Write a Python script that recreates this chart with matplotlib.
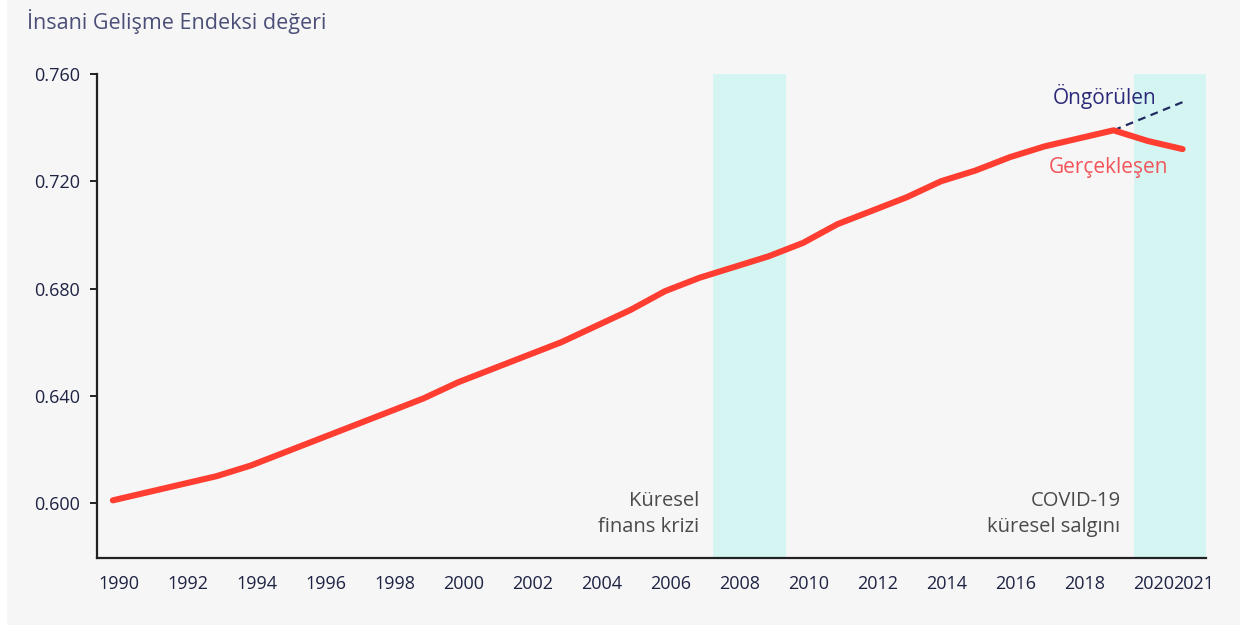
import matplotlib
matplotlib.use("Agg")
import matplotlib.pyplot as plt
import matplotlib.transforms as mtransforms
from matplotlib.patches import Rectangle

plt.rcParams['font.family'] = ['Open Sans', 'DejaVu Sans']

years = list(range(1990, 2022))
hdi = [0.601, 0.604, 0.607, 0.610, 0.614, 0.619, 0.624, 0.629, 0.634, 0.639,
       0.645, 0.650, 0.655, 0.660, 0.666, 0.672, 0.679, 0.684, 0.688, 0.692,
       0.697, 0.704, 0.709, 0.714, 0.720, 0.724, 0.729, 0.733, 0.736, 0.739,
       0.735, 0.732]
proj_years = [2019, 2021]
proj_hdi = [0.739, 0.7495]
crisis_span = (2007.4, 2009.5)
covid_span = (2019.6, 2021.7)
yticks = [0.600, 0.640, 0.680, 0.720, 0.760]
xticks = list(range(1990, 2021, 2)) + [2021]

fig = plt.figure(figsize=(12.5, 6.25), dpi=100, facecolor='white')
fig.patches.append(Rectangle((7 / 1250, 0), 1233 / 1250, 1, transform=fig.transFigure,
                             facecolor='#f6f6f6', edgecolor='none', zorder=-10))
ax = fig.add_axes([97 / 1250, 1 - 558 / 625, 1109 / 1250, 484 / 625])
ax.set_facecolor('none')

ax.axvspan(*crisis_span, color='#d5f5f2', lw=0, zorder=1)
ax.axvspan(*covid_span, color='#d5f5f2', lw=0, zorder=1)

ax.plot(proj_years, proj_hdi, color='#1f2a60', lw=1.6, ls=(0, (3.5, 2.5)), zorder=2)
ax.plot(years, hdi, color='#ff3d30', lw=4.4, solid_capstyle='round',
        solid_joinstyle='round', zorder=3)

ax.set_xlim(1989.54, 2021.68)
ax.set_ylim(0.5795, 0.760)
ax.set_yticks(yticks)
ax.set_yticklabels(['%.3f' % v for v in yticks])
ax.set_xticks(xticks)
ax.set_xticklabels([str(x) for x in xticks])

for s in ['top', 'right']:
    ax.spines[s].set_visible(False)
for s in ['left', 'bottom']:
    ax.spines[s].set_linewidth(1.6)
    ax.spines[s].set_color('#222222')

ax.tick_params(axis='y', length=5, width=1.4, color='#222222', pad=7,
               labelsize=13, labelcolor='#1e2344')
ax.tick_params(axis='x', length=0, pad=12, labelsize=13, labelcolor='#1e2344')

labels = ax.get_xticklabels()
for i, lab in enumerate(labels):
    dx = 6 if i < len(labels) - 1 else 11
    lab.set_transform(lab.get_transform() +
                      mtransforms.ScaledTranslation(dx / 100, 0, fig.dpi_scale_trans))

fig.text(27 / 1250, 1 - 22 / 625, 'İnsani Gelişme Endeksi değeri', fontsize=15.5,
         color='#4b4f78', ha='left', va='center')

ax.text(2007.0, 0.5872, 'Küresel\nfinans krizi', fontsize=14.5, color='#4a4a4a',
        ha='right', va='bottom', linespacing=1.45)
ax.text(2019.2, 0.5872, 'COVID-19\nküresel salgını', fontsize=14.5, color='#4a4a4a',
        ha='right', va='bottom', linespacing=1.45)
ax.text(2018.75, 0.7515, 'Öngörülen', fontsize=15, color='#2b2a7a',
        ha='center', va='center')
ax.text(2018.85, 0.7252, 'Gerçekleşen', fontsize=15, color='#f2545a',
        ha='center', va='center')

fig.savefig('out.png', dpi=100, facecolor='white')
